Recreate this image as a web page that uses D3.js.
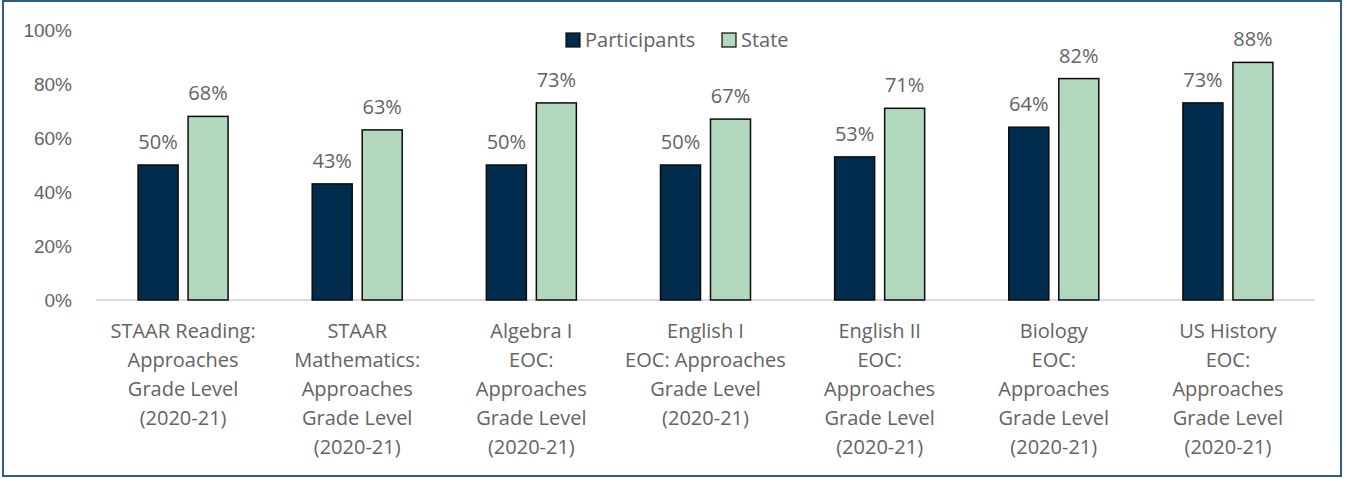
<!DOCTYPE html>
<html>
<head>
<meta charset="utf-8">
<script src="https://cdn.jsdelivr.net/npm/d3@7"></script>
<style>
  html, body { margin: 0; padding: 0; background: #fff; }
  svg { display: block; font-family: 'Open Sans', 'Noto Sans', sans-serif; }
  .tick text, .lbl, .legend text { fill: #636363; font-size: 20px; }
  .tick text { font-size: 19px; }
</style>
</head>
<body>
<svg id="chart"></svg>
<script>
'use strict';

const categories = [
  ['STAAR Reading:', 'Approaches', 'Grade Level', '(2020-21)'],
  ['STAAR', 'Mathematics:', 'Approaches', 'Grade Level', '(2020-21)'],
  ['Algebra I', 'EOC:', 'Approaches', 'Grade Level', '(2020-21)'],
  ['English I', 'EOC: Approaches', 'Grade Level', '(2020-21)'],
  ['English II', 'EOC:', 'Approaches', 'Grade Level', '(2020-21)'],
  ['Biology', 'EOC:', 'Approaches', 'Grade Level', '(2020-21)'],
  ['US History', 'EOC:', 'Approaches', 'Grade Level', '(2020-21)']
];
const seriesNames = ['Participants', 'State'];
const participants = [50, 43, 50, 50, 53, 64, 73];
const state = [68, 63, 73, 67, 71, 82, 88];
const yTicks = [0, 20, 40, 60, 80, 100];

const colors = { Participants: '#002d4d', State: '#b2d8bd' };

const W = 1345, H = 479;
const margin = { top: 30, right: 30, bottom: 179, left: 96 };
const width = W - margin.left - margin.right;
const height = H - margin.top - margin.bottom;

const svg = d3.select('#chart')
    .attr('width', W)
    .attr('height', H);

// frame
svg.append('rect')
    .attr('x', 3).attr('y', 1)
    .attr('width', W - 7).attr('height', H - 4)
    .attr('fill', '#fff')
    .attr('stroke', '#2f5d85')
    .attr('stroke-width', 2);

const graph = svg.append('g')
    .attr('transform', `translate(${margin.left}, ${margin.top})`);

const ids = categories.map((c, i) => i);

const x0 = d3.scaleBand()
    .domain(ids)
    .range([0, width]);

const x1 = d3.scaleBand()
    .domain(seriesNames)
    .range([x0.bandwidth() / 2 - 45, x0.bandwidth() / 2 + 45])
    .paddingInner(0.2);

const y = d3.scaleLinear()
    .domain([0, 100])
    .range([height, 0]);

// y axis labels
const yAxis = d3.axisLeft(y)
    .tickValues(yTicks)
    .tickFormat(d => d + '%')
    .tickSize(0)
    .tickPadding(24);

graph.append('g')
    .attr('class', 'y-axis')
    .call(yAxis)
    .call(g => g.select('.domain').remove())
    .selectAll('text')
    .attr('dy', '0.35em');

// baseline
graph.append('line')
    .attr('x1', 0).attr('x2', width)
    .attr('y1', y(0)).attr('y2', y(0))
    .attr('stroke', '#d0d0d0')
    .attr('stroke-width', 1.5);

const rows = ids.map(i => ({ i, Participants: participants[i], State: state[i] }));

const groups = graph.append('g')
    .selectAll('g')
    .data(rows)
  .enter().append('g')
    .attr('transform', d => `translate(${x0(d.i)}, 0)`);

groups.selectAll('rect')
    .data(d => seriesNames.map(k => ({ key: k, value: d[k] })))
  .enter().append('rect')
    .attr('x', d => x1(d.key))
    .attr('y', d => y(d.value))
    .attr('width', x1.bandwidth())
    .attr('height', d => y(0) - y(d.value))
    .attr('fill', d => colors[d.key])
    .attr('stroke', '#0b0b0b')
    .attr('stroke-width', 1.5);

groups.selectAll('text.lbl')
    .data(d => seriesNames.map(k => ({ key: k, value: d[k] })))
  .enter().append('text')
    .attr('class', 'lbl')
    .attr('x', d => x1(d.key) + x1.bandwidth() / 2)
    .attr('y', d => y(d.value) - 16)
    .attr('text-anchor', 'middle')
    .text(d => d.value + '%');

// category labels
const xLabels = graph.append('g')
    .selectAll('text')
    .data(ids)
  .enter().append('text')
    .attr('class', 'lbl')
    .attr('text-anchor', 'middle')
    .attr('x', i => x0(i) + x0.bandwidth() / 2)
    .attr('y', height + 38);

xLabels.selectAll('tspan')
    .data(i => categories[i].map((t, k) => ({ t, k, i })))
  .enter().append('tspan')
    .attr('x', d => x0(d.i) + x0.bandwidth() / 2)
    .attr('dy', d => d.k === 0 ? 0 : 29)
    .text(d => d.t);

// legend
const legend = svg.append('g')
    .attr('class', 'legend')
    .attr('transform', 'translate(566, 40)');

const legX = [0, 156];
seriesNames.forEach((name, i) => {
  const item = legend.append('g').attr('transform', `translate(${legX[i]}, 0)`);
  item.append('rect')
      .attr('x', 0).attr('y', -7)
      .attr('width', 14).attr('height', 14)
      .attr('fill', colors[name])
      .attr('stroke', '#0b0b0b')
      .attr('stroke-width', 1.2);
  item.append('text')
      .attr('x', 19).attr('y', 0)
      .attr('dy', '0.35em')
      .text(name);
});
</script>
</body>
</html>
